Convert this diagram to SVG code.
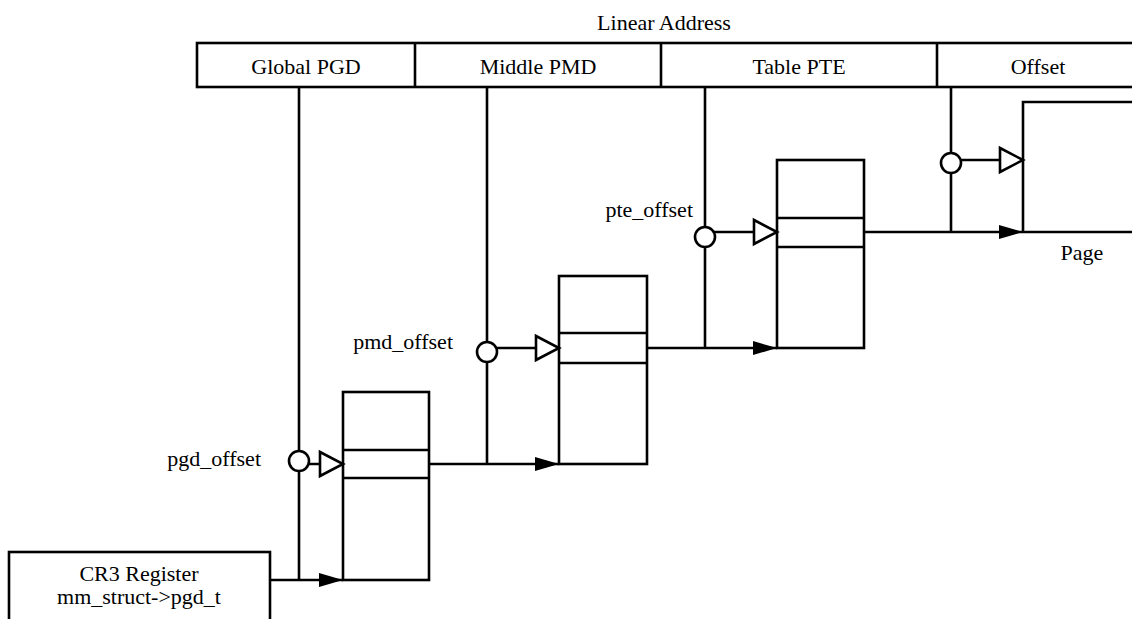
<svg xmlns="http://www.w3.org/2000/svg" width="1132" height="619" viewBox="0 0 1132 619">
<defs>
<style>
.ln{stroke:#000;stroke-width:2.6;fill:none}
.bx{stroke:#000;stroke-width:2.6;fill:#fff}
.t{font-family:'Liberation Serif','DejaVu Serif',serif;font-size:22px;fill:#000}
.m{text-anchor:middle}
.e{text-anchor:end}
</style>
<marker id="fa" markerUnits="userSpaceOnUse" markerWidth="24" markerHeight="14" refX="24" refY="7" orient="auto">
<path d="M0,0 L24,7 L0,14 Z" fill="#000"/>
</marker>
<marker id="oa" markerUnits="userSpaceOnUse" markerWidth="28" markerHeight="30" refX="25" refY="15" orient="auto">
<path d="M2,3 L25,15 L2,27 Z" fill="#fff" stroke="#000" stroke-width="2.6"/>
</marker>
</defs>
<rect width="1132" height="619" fill="#fff"/>

<g id="linear-address">
<text class="t m" x="664" y="30" font-family="Liberation Serif, serif">Linear Address</text>
<rect class="bx" x="197" y="43" width="960" height="44"/>
<line class="ln" x1="415" y1="43" x2="415" y2="87"/>
<line class="ln" x1="661" y1="43" x2="661" y2="87"/>
<line class="ln" x1="937" y1="43" x2="937" y2="87"/>
<text class="t m" x="306" y="74">Global PGD</text>
<text class="t m" x="538" y="74">Middle PMD</text>
<text class="t m" x="799" y="74">Table PTE</text>
<text class="t m" x="1038" y="74">Offset</text>
</g>

<g id="connectors">
<line class="ln" x1="299" y1="87" x2="299" y2="580"/>
<line class="ln" x1="487" y1="87" x2="487" y2="464"/>
<line class="ln" x1="705" y1="87" x2="705" y2="348"/>
<line class="ln" x1="951" y1="87" x2="951" y2="232"/>
<line class="ln" x1="270" y1="580" x2="343" y2="580" marker-end="url(#fa)"/>
<line class="ln" x1="429" y1="464" x2="559" y2="464" marker-end="url(#fa)"/>
<line class="ln" x1="647" y1="348" x2="777" y2="348" marker-end="url(#fa)"/>
<line class="ln" x1="864" y1="232" x2="1023" y2="232" marker-end="url(#fa)"/>
<line class="ln" x1="1023" y1="232" x2="1140" y2="232"/>
<line class="ln" x1="299" y1="464" x2="343" y2="464" marker-end="url(#oa)"/>
<line class="ln" x1="487" y1="348" x2="559" y2="348" marker-end="url(#oa)"/>
<line class="ln" x1="705" y1="232" x2="777" y2="232" marker-end="url(#oa)"/>
<line class="ln" x1="951" y1="160" x2="1023" y2="160" marker-end="url(#oa)"/>
<circle class="bx" cx="299" cy="461" r="10"/>
<circle class="bx" cx="487" cy="352" r="10"/>
<circle class="bx" cx="705" cy="237" r="10"/>
<circle class="bx" cx="951" cy="163" r="10"/>
</g>

<g id="cr3">
<rect class="bx" x="9" y="552" width="261" height="80"/>
<text class="t m" x="139" y="581">CR3 Register</text>
<text class="t m" x="139" y="604">mm_struct-&gt;pgd_t</text>
</g>

<g id="pgd-table">
<rect class="ln" x="343" y="392" width="86" height="188"/>
<line class="ln" x1="343" y1="450" x2="429" y2="450"/>
<line class="ln" x1="343" y1="478" x2="429" y2="478"/>
<text class="t e" x="261" y="466">pgd_offset</text>
</g>

<g id="pmd-table">
<rect class="ln" x="559" y="276" width="88" height="188"/>
<line class="ln" x1="559" y1="333" x2="647" y2="333"/>
<line class="ln" x1="559" y1="363" x2="647" y2="363"/>
<text class="t e" x="453" y="349">pmd_offset</text>
</g>

<g id="pte-table">
<rect class="ln" x="777" y="160" width="87" height="188"/>
<line class="ln" x1="777" y1="218" x2="864" y2="218"/>
<line class="ln" x1="777" y1="247" x2="864" y2="247"/>
<text class="t e" x="693" y="217">pte_offset</text>
</g>

<g id="page">
<polyline class="ln" points="1023,232 1023,102 1140,102"/>
<text class="t m" x="1082" y="260">Page</text>
</g>
</svg>
